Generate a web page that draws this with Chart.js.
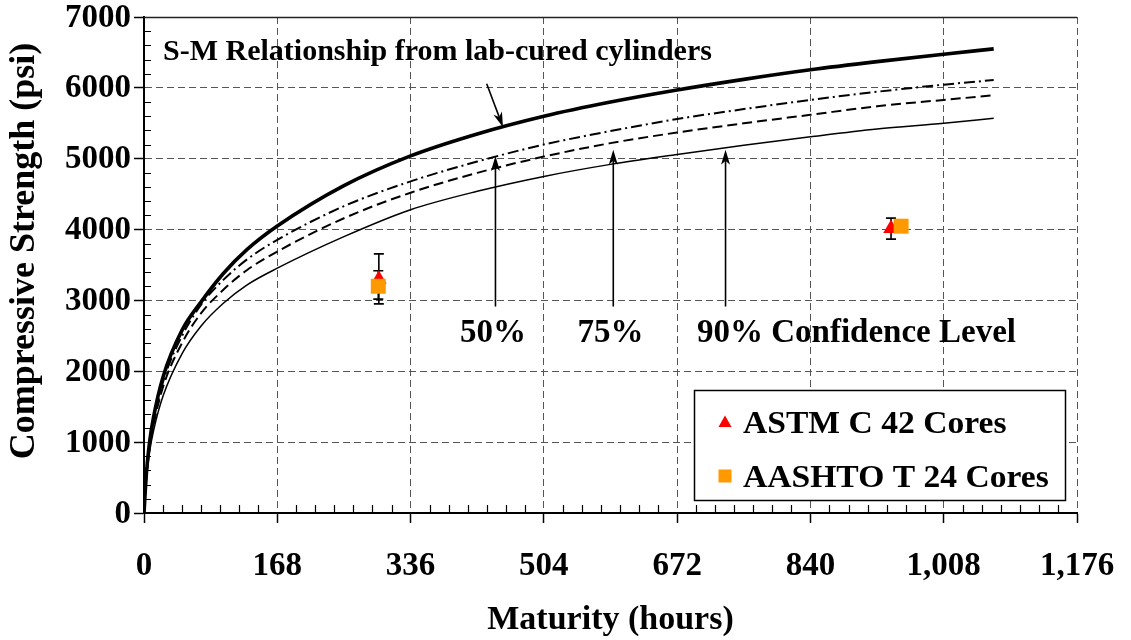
<!DOCTYPE html>
<html>
<head>
<meta charset="utf-8">
<script src="https://cdn.jsdelivr.net/npm/chart.js@4.4.1/dist/chart.umd.min.js"></script>
<style>
html,body{margin:0;padding:0;background:#ffffff;}
#wrap{width:1131px;height:640px;position:relative;overflow:hidden;}
canvas{display:block;}
</style>
</head>
<body>
<div id="wrap"><canvas id="c" width="1131" height="640"></canvas></div>
<script>
// ---------------- DATA ----------------
const maturityHours = [0, 3, 7, 12, 24, 48, 72, 100, 130, 168, 252, 336, 420, 504, 588, 672, 756, 840, 924, 1008, 1071];
const smLabCured   = [0, 560, 1000, 1350, 1920, 2580, 2980, 3380, 3720, 4050, 4620, 5040, 5350, 5600, 5800, 5970, 6120, 6255, 6370, 6475, 6550];
const conf50       = [0, 520, 950, 1280, 1850, 2500, 2940, 3290, 3580, 3855, 4330, 4680, 4960, 5200, 5390, 5560, 5700, 5830, 5945, 6045, 6110];
const conf75       = [0, 500, 920, 1240, 1780, 2400, 2820, 3150, 3430, 3690, 4160, 4520, 4800, 5030, 5220, 5370, 5500, 5620, 5740, 5830, 5895];
const conf90       = [0, 470, 860, 1160, 1650, 2250, 2640, 2960, 3220, 3455, 3900, 4280, 4540, 4750, 4920, 5060, 5190, 5310, 5420, 5500, 5570];

const astmHours     = [296, 941.6];
const astmStrength  = [3300, 4015];
const astmErrLow    = [2952, 3865];
const astmErrHigh   = [3657, 4161];

const aashtoHours    = [295.3, 954.3];
const aashtoStrength = [3200, 4048];
const aashtoErrLow   = [3018, null];
const aashtoErrHigh  = [3418, null];

const xTickValues = [0, 168, 336, 504, 672, 840, 1008, 1176];
const xTickLabels = ['0', '168', '336', '504', '672', '840', '1,008', '1,176'];
const yTickValues = [0, 1000, 2000, 3000, 4000, 5000, 6000, 7000];
const yTickLabels = ['0', '1000', '2000', '3000', '4000', '5000', '6000', '7000'];

const legendLabels = ['ASTM C 42 Cores', 'AASHTO T 24 Cores'];
const xTitle = 'Maturity (hours)';
const yTitle = 'Compressive Strength (psi)';
const curveNote = 'S-M Relationship from lab-cured cylinders';
const confLabels = ['50%', '75%', '90% Confidence Level'];
// arrows in data units: [x1, y1, x2(tip), y2(tip)]
const noteArrow = [431.9, 6058, 452.5, 5445];
const confArrowHours = [443, 591.5, 733];
const confArrowBase = 2914;
const confArrowTips = [5040, 5125, 5125];

// ---------------- STYLE ----------------
const FAMILY = "'Liberation Serif','Times New Roman',Times,serif";
const TICK_SIZE = 33;

function pts(xs, ys) { return xs.map((x, i) => ({x: x, y: ys[i]})); }

function drawText(ctx, txt, x, y, size, stretch, align, baseline, rot) {
  ctx.save();
  ctx.font = 'bold ' + size + 'px ' + FAMILY;
  ctx.fillStyle = '#000';
  ctx.textAlign = align || 'left';
  ctx.textBaseline = baseline || 'alphabetic';
  ctx.translate(x, y);
  if (rot) ctx.rotate(rot);
  ctx.scale(stretch || 1, 1);
  ctx.fillText(txt, 0, 0);
  ctx.restore();
}

function drawArrow(ctx, x1, y1, x2, y2) {
  const ang = Math.atan2(y2 - y1, x2 - x1);
  const L = 15, W = 4.5, back = 4;
  ctx.save();
  ctx.strokeStyle = '#000';
  ctx.fillStyle = '#000';
  ctx.lineWidth = 1.6;
  ctx.beginPath();
  ctx.moveTo(x1, y1);
  ctx.lineTo(x2 - Math.cos(ang) * (L - back), y2 - Math.sin(ang) * (L - back));
  ctx.stroke();
  ctx.translate(x2, y2);
  ctx.rotate(ang);
  ctx.beginPath();
  ctx.moveTo(0, 0);
  ctx.lineTo(-L, -W);
  ctx.lineTo(-L + back, 0);
  ctx.lineTo(-L, W);
  ctx.closePath();
  ctx.fill();
  ctx.restore();
}

const decor = {
  id: 'decor',
  beforeDatasetsDraw(chart) {
    const ctx = chart.ctx;
    const xs = chart.scales.x, ys = chart.scales.y, a = chart.chartArea;
    ctx.save();
    // top frame line
    ctx.strokeStyle = '#222';
    ctx.lineWidth = 1.5;
    ctx.beginPath();
    ctx.moveTo(a.left, a.top + 0.5);
    ctx.lineTo(a.right, a.top + 0.5);
    ctx.stroke();
    // minor ticks (inside)
    ctx.strokeStyle = '#000';
    ctx.lineWidth = 1.2;
    ctx.beginPath();
    for (let v = 24; v < 1176; v += 24) {
      if (v % 168 === 0) continue;
      const px = Math.round(xs.getPixelForValue(v)) + 0.5;
      ctx.moveTo(px, a.bottom);
      ctx.lineTo(px, a.bottom - 8);
    }
    for (let v = 200; v < 7000; v += 200) {
      if (v % 1000 === 0) continue;
      const py = Math.round(ys.getPixelForValue(v)) + 0.5;
      ctx.moveTo(a.left, py);
      ctx.lineTo(a.left + 7, py);
    }
    ctx.stroke();
    // error bars
    function bars(hx, lo, hi) {
      for (let i = 0; i < hx.length; i++) {
        if (lo[i] == null || hi[i] == null) continue;
        const px = xs.getPixelForValue(hx[i]);
        const p1 = ys.getPixelForValue(lo[i]);
        const p2 = ys.getPixelForValue(hi[i]);
        ctx.beginPath();
        ctx.lineWidth = 1.6;
        ctx.moveTo(px, p1); ctx.lineTo(px, p2);
        ctx.moveTo(px - 5, p1); ctx.lineTo(px + 5, p1);
        ctx.moveTo(px - 5, p2); ctx.lineTo(px + 5, p2);
        ctx.stroke();
      }
    }
    bars(astmHours, astmErrLow, astmErrHigh);
    bars(aashtoHours, aashtoErrLow, aashtoErrHigh);
    ctx.restore();
  },
  afterDraw(chart) {
    const ctx = chart.ctx;
    const xs = chart.scales.x, ys = chart.scales.y, a = chart.chartArea;
    // tick labels, positioned by the chart's own scales
    for (let i = 0; i < yTickValues.length; i++) {
      drawText(ctx, yTickLabels[i], a.left - 13, ys.getPixelForValue(yTickValues[i]) + 1, TICK_SIZE, 1.0, 'right', 'middle');
    }
    for (let i = 0; i < xTickValues.length; i++) {
      drawText(ctx, xTickLabels[i], xs.getPixelForValue(xTickValues[i]), a.bottom + 53, TICK_SIZE, 1.0, 'center', 'middle');
    }
    // axis titles
    drawText(ctx, yTitle, 24.5, (a.top + a.bottom) / 2 - 14, 36, 1.0, 'center', 'middle', -Math.PI / 2);
    drawText(ctx, xTitle, (a.left + a.right) / 2, 629, 34, 1.0, 'center', 'alphabetic');
    // annotations
    drawText(ctx, curveNote, 163, 60, 30, 1.0, 'left', 'alphabetic');
    drawText(ctx, confLabels[0], 493, 342, 33, 1.0, 'center', 'alphabetic');
    drawText(ctx, confLabels[1], 610.5, 342, 33, 1.0, 'center', 'alphabetic');
    drawText(ctx, confLabels[2], 697, 342, 33, 1.0, 'left', 'alphabetic');
    drawArrow(ctx, xs.getPixelForValue(noteArrow[0]), ys.getPixelForValue(noteArrow[1]),
                   xs.getPixelForValue(noteArrow[2]), ys.getPixelForValue(noteArrow[3]));
    for (let i = 0; i < confArrowHours.length; i++) {
      const px = xs.getPixelForValue(confArrowHours[i]);
      drawArrow(ctx, px, ys.getPixelForValue(confArrowBase), px, ys.getPixelForValue(confArrowTips[i]));
    }
    // legend box
    ctx.save();
    ctx.fillStyle = '#fff';
    ctx.fillRect(694, 390, 372, 110);
    ctx.strokeStyle = '#000';
    ctx.lineWidth = 1.5;
    ctx.strokeRect(694.5, 390.5, 371, 110);
    ctx.fillStyle = '#FF0000';
    ctx.beginPath(); ctx.moveTo(725, 415.5); ctx.lineTo(731.5, 427); ctx.lineTo(718.5, 427); ctx.closePath(); ctx.fill();
    ctx.fillStyle = '#FF9900';
    ctx.fillRect(718.5, 469.5, 13, 13);
    ctx.restore();
    drawText(ctx, legendLabels[0], 743, 433, 32, 1.05, 'left', 'alphabetic');
    drawText(ctx, legendLabels[1], 743, 487, 32, 1.05, 'left', 'alphabetic');
  }
};

const ctx = document.getElementById('c').getContext('2d');
new Chart(ctx, {
  type: 'line',
  data: {
    datasets: [
      {label: 'AASHTO T 24 Cores', data: pts(aashtoHours, aashtoStrength), showLine: false,
       pointStyle: 'rect', pointRadius: 10.6, pointHoverRadius: 10.6, backgroundColor: '#FF9900', borderColor: '#FF9900', borderWidth: 0, order: 0},
      {label: 'ASTM C 42 Cores', data: pts(astmHours, astmStrength), showLine: false,
       pointStyle: 'triangle', pointRadius: 9, pointHoverRadius: 9, backgroundColor: '#FF0000', borderColor: '#FF0000', borderWidth: 0, order: 1},
      {label: 'S-M lab-cured', data: pts(maturityHours, smLabCured), borderColor: '#000', borderWidth: 3.6,
       pointRadius: 0, cubicInterpolationMode: 'monotone', fill: false, order: 2},
      {label: '50%', data: pts(maturityHours, conf50), borderColor: '#000', borderWidth: 2, borderDash: [11, 4, 2, 4],
       pointRadius: 0, cubicInterpolationMode: 'monotone', fill: false, order: 3},
      {label: '75%', data: pts(maturityHours, conf75), borderColor: '#000', borderWidth: 2, borderDash: [10, 5],
       pointRadius: 0, cubicInterpolationMode: 'monotone', fill: false, order: 4},
      {label: '90%', data: pts(maturityHours, conf90), borderColor: '#000', borderWidth: 1.5,
       pointRadius: 0, cubicInterpolationMode: 'monotone', fill: false, order: 5}
    ]
  },
  options: {
    responsive: false,
    animation: false,
    devicePixelRatio: 1,
    layout: {padding: {top: 17, right: 54, left: 0, bottom: 0}},
    plugins: {legend: {display: false}, tooltip: {enabled: false}},
    scales: {
      x: {
        type: 'linear', min: 0, max: 1176,
        afterBuildTicks(s) { s.ticks = xTickValues.map(v => ({value: v})); },
        afterFit(s) { s.height = 127; s.paddingLeft = 0; s.paddingRight = 0; },
        ticks: {display: false},
        grid: {color: '#555', lineWidth: 1, drawTicks: true, tickLength: 10, tickColor: '#000', tickWidth: 1.5},
        border: {display: true, color: '#000', width: 2, dash: [7, 4]}
      },
      y: {
        type: 'linear', min: 0, max: 7000,
        afterBuildTicks(s) { s.ticks = yTickValues.map(v => ({value: v})); },
        afterFit(s) { s.width = 144; s.paddingTop = 0; s.paddingBottom = 0; },
        ticks: {display: false},
        grid: {color: '#555', lineWidth: 1, drawTicks: true, tickLength: 10, tickColor: '#000', tickWidth: 1.5},
        border: {display: true, color: '#000', width: 2, dash: [7, 4]}
      }
    }
  },
  plugins: [decor]
});
</script>
</body>
</html>
